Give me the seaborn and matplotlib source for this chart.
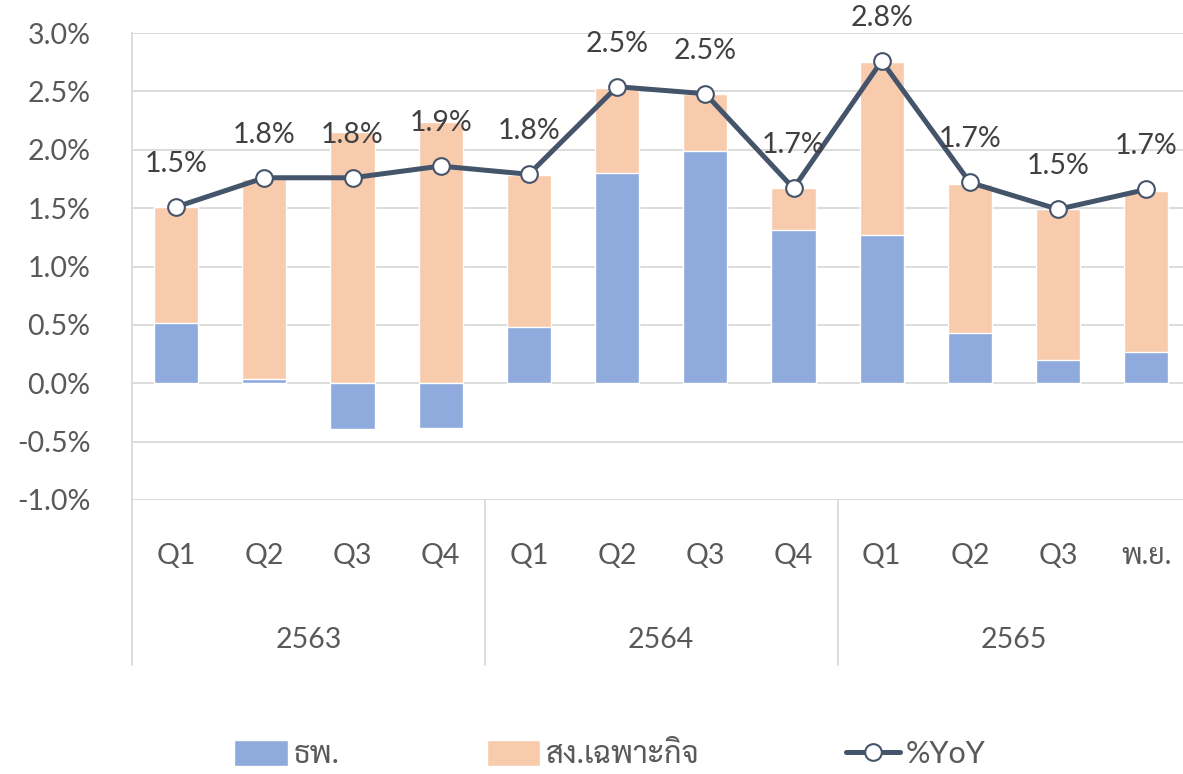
import matplotlib
matplotlib.use("Agg")
import matplotlib.pyplot as plt
from matplotlib import font_manager
from matplotlib.lines import Line2D
from matplotlib.patches import Patch
import seaborn as sns
import pandas as pd
import numpy as np

quarters = ["Q1", "Q2", "Q3", "Q4", "Q1", "Q2", "Q3", "Q4", "Q1", "Q2", "Q3", "พ.ย."]
years = ["2563", "2564", "2565"]
banks = [0.52, 0.04, -0.39, -0.38, 0.48, 1.80, 1.99, 1.31, 1.27, 0.43, 0.20, 0.27]
sfi = [0.99, 1.71, 2.15, 2.24, 1.30, 0.73, 0.49, 0.36, 1.48, 1.28, 1.29, 1.38]
yoy = [1.51, 1.76, 1.76, 1.86, 1.79, 2.54, 2.48, 1.67, 2.76, 1.72, 1.49, 1.66]

BLUE = "#8FAADC"
ORANGE = "#F8CBAD"
LINE = "#44546A"
GRID = "#D9D9D9"
TICK = "#595959"


def thai_family():
    names = {f.name for f in font_manager.fontManager.ttflist}
    for n in ["Sarabun", "Noto Sans Thai Looped", "Noto Sans Thai", "Anuphan"]:
        if n in names:
            return [n]
    return []


sns.set_theme(style="white")
plt.rcParams["font.family"] = ["Lato"] + thai_family() + ["DejaVu Sans"]

df = pd.DataFrame({"idx": range(len(quarters)), "banks": banks, "sfi": sfi, "yoy": yoy})
df["top"] = df["sfi"] + df["banks"].clip(lower=0)

W, H = 1183, 774
fig = plt.figure(figsize=(W / 100, H / 100), dpi=100)
x0, x1 = 132, 132 + 12 * 88.2
y0, y1 = 33, 500
ax = fig.add_axes([x0 / W, 1 - y1 / H, (x1 - x0) / W, (y1 - y0) / H])

# orange drawn to the stack top, blue overlaid from zero
sns.barplot(data=df, x="idx", y="top", color=ORANGE, width=0.5, saturation=1, ax=ax)
sns.barplot(data=df, x="idx", y="banks", color=BLUE, width=0.5, saturation=1, ax=ax)
sns.lineplot(data=df, x="idx", y="yoy", color=LINE, linewidth=3.6, marker="o",
             markersize=12, markerfacecolor="white", markeredgecolor=LINE,
             markeredgewidth=1.5, ax=ax)

for i, v in enumerate(yoy):
    ax.annotate(f"{v:.1f}%", (i, v), xytext=(0, 31), textcoords="offset points",
                ha="center", va="center", fontsize=20.5, color="#404040")

ax.set_xlim(-0.5, 11.5)
ax.set_ylim(-1.0, 3.0)
ticks = np.arange(-1.0, 3.01, 0.5)
ax.set_yticks(ticks)
ax.set_yticklabels([f"{t:.1f}%" for t in ticks])
ax.yaxis.grid(True, color=GRID, linewidth=1.3)
ax.set_axisbelow(True)
ax.set_xticks(range(len(quarters)))
ax.set_xticklabels(quarters)
ax.tick_params(axis="x", length=0, pad=31, labelsize=20.5, labelcolor=TICK)
ax.tick_params(axis="y", length=0, pad=30, labelsize=20.5, labelcolor=TICK)
ax.set_xlabel("")
ax.set_ylabel("")
for s in ["top", "right", "bottom"]:
    ax.spines[s].set_visible(False)
ax.spines["left"].set_color(GRID)
ax.spines["left"].set_linewidth(1.3)

# year groups under the quarter labels
trans = ax.get_xaxis_transform()
bottom = -(665 - y1) / (y1 - y0)
for xs in [-0.5, 3.5, 7.5, 11.5]:
    ax.plot([xs, xs], [0, bottom], color=GRID, linewidth=1.3, transform=trans, clip_on=False)
for k, yr in enumerate(years):
    ax.text(1.5 + 4 * k, -(640 - y1) / (y1 - y0), yr, transform=trans,
            ha="center", va="center", fontsize=20.5, color=TICK)

handles = [
    Patch(facecolor=BLUE, label="ธพ."),
    Patch(facecolor=ORANGE, label="สง.เฉพาะกิจ"),
    Line2D([], [], color=LINE, linewidth=3.6, marker="o", markersize=12,
           markerfacecolor="white", markeredgecolor=LINE, markeredgewidth=1.5, label="%YoY"),
]
fig.legend(handles=handles, loc="center", bbox_to_anchor=(610 / W, 1 - 754 / H), ncol=3,
           frameon=False, fontsize=22, labelcolor=TICK, handlelength=1.75, handleheight=0.95,
           handletextpad=0.2, columnspacing=4.8)

fig.savefig("out.png", dpi=100)
